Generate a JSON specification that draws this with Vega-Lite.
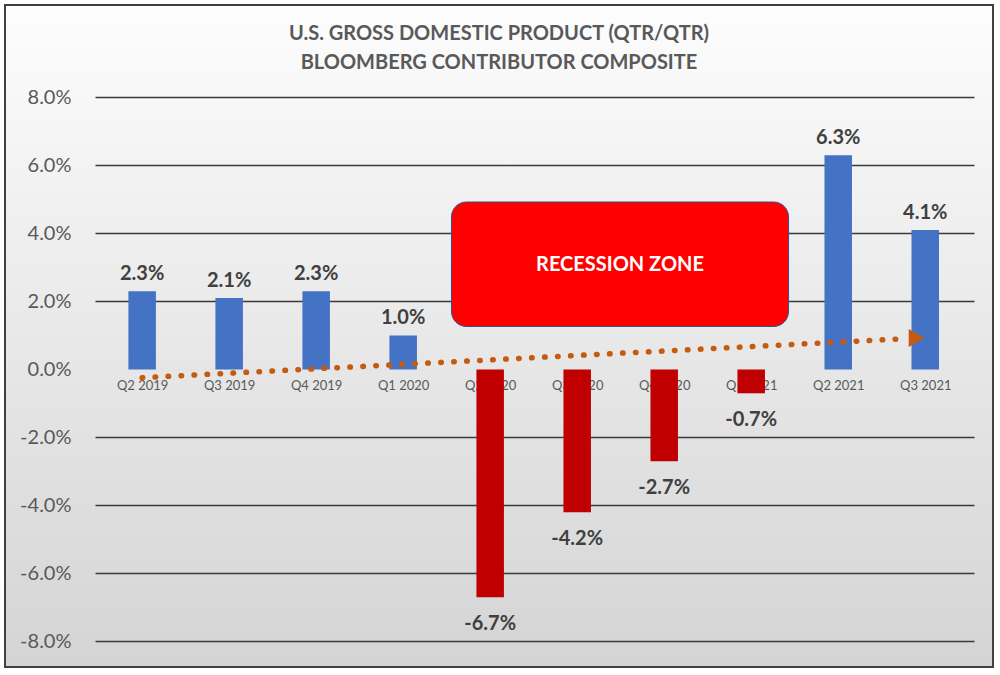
{
  "$schema": "https://vega.github.io/schema/vega-lite/v6.json",
  "autosize": {"type": "none"},
  "width": 988,
  "height": 662,
  "padding": {"left": 5, "top": 5, "right": 7, "bottom": 8},
  "background": "#ffffff",
  "config": {
    "view": {
      "stroke": "#404040",
      "strokeWidth": 2,
      "fill": {"gradient": "linear", "x1": 0, "y1": 0, "x2": 0, "y2": 1, "stops": [{"offset": 0, "color": "#fdfdfd"}, {"offset": 1, "color": "#d4d4d4"}]}
    },
    "font": "Lato"
  },
  "title": {
    "text": ["U.S. GROSS DOMESTIC PRODUCT (QTR/QTR)", "BLOOMBERG CONTRIBUTOR COMPOSITE"],
    "fontSize": 20,
    "fontWeight": "bold",
    "color": "#595959",
    "anchor": "middle",
    "frame": "group",
    "lineHeight": 29,
    "offset": -68
  },
  "datasets": {
    "gdp": [
      {"quarter": "Q2 2019", "i": 0, "v": 2.3},
      {"quarter": "Q3 2019", "i": 1, "v": 2.1},
      {"quarter": "Q4 2019", "i": 2, "v": 2.3},
      {"quarter": "Q1 2020", "i": 3, "v": 1.0},
      {"quarter": "Q2 2020", "i": 4, "v": -6.7},
      {"quarter": "Q3 2020", "i": 5, "v": -4.2},
      {"quarter": "Q4 2020", "i": 6, "v": -2.7},
      {"quarter": "Q1 2021", "i": 7, "v": -0.7},
      {"quarter": "Q2 2021", "i": 8, "v": 6.3},
      {"quarter": "Q3 2021", "i": 9, "v": 4.1}
    ],
    "trend": [
      {"i": 0, "t": -0.24},
      {"i": 8.8, "t": 0.91}
    ],
    "note": [{"label": "RECESSION ZONE"}]
  },
  "data": {"name": "gdp"},
  "layer": [
    {
      "mark": {"type": "bar", "width": 27.5},
      "encoding": {
        "x": {
          "field": "i",
          "type": "quantitative",
          "scale": {"domain": [-1.5188, 9.7213], "nice": false, "zero": false},
          "axis": {
            "values": [0, 1, 2, 3, 4, 5, 6, 7, 8, 9],
            "labelExpr": "['Q2 2019','Q3 2019','Q4 2019','Q1 2020','Q2 2020','Q3 2020','Q4 2020','Q1 2021','Q2 2021','Q3 2021'][datum.value]",
            "orient": "bottom",
            "offset": -297,
            "domain": false,
            "ticks": false,
            "grid": false,
            "title": null,
            "labelPadding": 9,
            "labelFontSize": 13,
            "labelColor": "#595959",
            "labelFlush": false,
            "labelBound": false,
            "labelOverlap": false
          }
        },
        "y": {
          "field": "v",
          "type": "quantitative",
          "scale": {"domain": [-8.75, 10.72], "nice": false, "zero": false},
          "axis": {
            "values": [-8, -6, -4, -2, 0, 2, 4, 6, 8],
            "labelExpr": "replace(format(datum.value / 100, '.1%'), '\u2212', '-')",
            "orient": "left",
            "offset": -90,
            "domain": false,
            "grid": false,
            "ticks": true,
            "tickSize": -879,
            "tickWidth": 1.5,
            "tickColor": {"condition": {"test": "datum.value === 0", "value": "#e4e4e4"}, "value": "#3a3a3a"},
            "title": null,
            "labelPadding": 903,
            "labelFontSize": 20,
            "labelColor": "#595959",
            "labelFlush": false,
            "labelBound": false,
            "labelOverlap": false
          }
        },
        "y2": {"datum": 0},
        "color": {"condition": {"test": "datum.v < 0", "value": "#C00000"}, "value": "#4472C4"}
      }
    },
    {
      "transform": [{"filter": "datum.v >= 0"}],
      "mark": {"type": "text", "baseline": "bottom", "dy": -7, "fontSize": 20, "fontWeight": "bold", "color": "#404040", "text": {"expr": "format(datum.v / 100, '.1%')"}},
      "encoding": {
        "x": {"field": "i", "type": "quantitative", "scale": {"domain": [-1.5188, 9.7213], "nice": false, "zero": false}},
        "y": {"field": "v", "type": "quantitative", "scale": {"domain": [-8.75, 10.72], "nice": false, "zero": false}}
      }
    },
    {
      "transform": [{"filter": "datum.v < 0"}],
      "mark": {"type": "text", "baseline": "top", "dy": 17, "fontSize": 20, "fontWeight": "bold", "color": "#404040", "text": {"expr": "replace(format(datum.v / 100, '.1%'), '\u2212', '-')"}},
      "encoding": {
        "x": {"field": "i", "type": "quantitative", "scale": {"domain": [-1.5188, 9.7213], "nice": false, "zero": false}},
        "y": {"field": "v", "type": "quantitative", "scale": {"domain": [-8.75, 10.72], "nice": false, "zero": false}}
      }
    },
    {
      "data": {"name": "note"},
      "mark": {"type": "rect", "fill": "#FF0000", "stroke": "#2F528F", "strokeWidth": 1, "cornerRadius": 15},
      "encoding": {
        "x": {"datum": 3.555, "type": "quantitative"},
        "x2": {"datum": 7.429},
        "y": {"datum": 4.926, "type": "quantitative"},
        "y2": {"datum": 1.265}
      }
    },
    {
      "data": {"name": "note"},
      "mark": {"type": "text", "fontSize": 20, "fontWeight": "bold", "color": "#ffffff"},
      "encoding": {
        "x": {"datum": 5.492, "type": "quantitative"},
        "y": {"datum": 3.07, "type": "quantitative"},
        "text": {"field": "label"}
      }
    },
    {
      "data": {"name": "trend"},
      "mark": {"type": "line", "color": "#C55A11", "strokeWidth": 5.5, "strokeCap": "round", "strokeDash": [0.5, 12.5]},
      "encoding": {
        "x": {"field": "i", "type": "quantitative"},
        "y": {"field": "t", "type": "quantitative"}
      }
    },
    {
      "data": {"name": "note"},
      "mark": {"type": "point", "shape": "triangle-right", "filled": true, "color": "#C55A11", "size": 330, "opacity": 1},
      "encoding": {
        "x": {"datum": 8.9, "type": "quantitative"},
        "y": {"datum": 0.925, "type": "quantitative"}
      }
    }
  ]
}
